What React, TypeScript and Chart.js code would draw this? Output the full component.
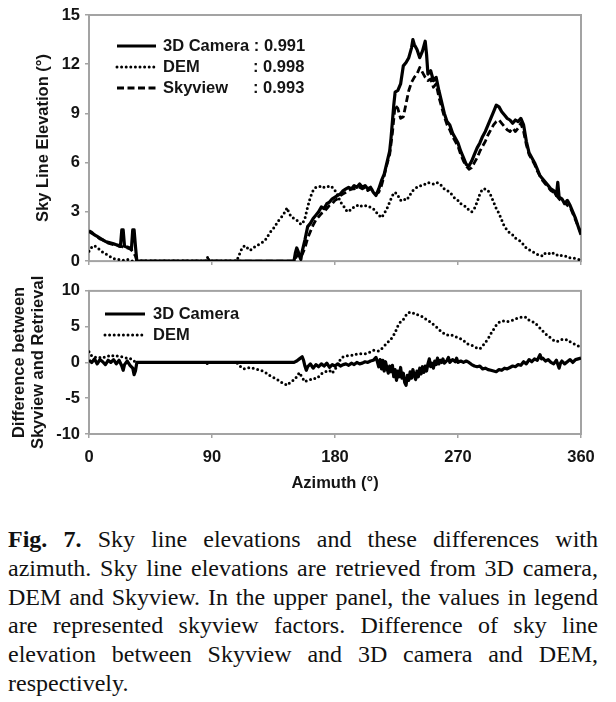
import React, { useEffect, useRef } from "react";
import { Chart, registerables } from "chart.js";

Chart.register(...registerables);

// ---------- data (azimuth in degrees, value) ----------
const azimuthTicks = [0, 90, 180, 270, 360];
const elevationTicks = [0, 3, 6, 9, 12, 15];
const differenceTicks = [-10, -5, 0, 5, 10];
const skyviewFactors = ["0.991", "0.998", "0.993"];

const cameraElev: [number, number][] = [
  [0, 1.85], [2, 1.75], [4, 1.6], [6, 1.5], [8, 1.4], [10, 1.3], [12, 1.2], [14, 1.15], [16, 1.1], [18, 1.05],
  [20, 1.0], [22, 0.95], [23, 0.9], [24, 1.9], [25, 1.9], [26, 0.9], [28, 0.85], [30, 0.8], [31, 0.7], [32, 1.9],
  [33, 1.9], [34, 0.9], [35, 0], [150, 0], [151, 0.5], [152, 0.8], [153, 0.6], [154, 0.3], [155, 0.1], [156, 0.6],
  [158, 1.3], [160, 2.1], [162, 2.3], [164, 2.6], [166, 2.8], [168, 3.0], [170, 3.3], [172, 3.2], [174, 3.5], [176, 3.6],
  [178, 3.8], [180, 3.9], [182, 4.0], [184, 4.1], [186, 4.3], [188, 4.4], [190, 4.5], [192, 4.4], [194, 4.6], [196, 4.5],
  [198, 4.7], [200, 4.5], [202, 4.6], [204, 4.4], [206, 4.5], [208, 4.2], [210, 4.0], [212, 4.4], [214, 4.9], [216, 5.3],
  [218, 6.0], [220, 6.7], [221, 7.5], [222, 8.5], [223, 9.5], [224, 10.3], [226, 10.4], [228, 10.8], [230, 11.9], [232, 12.1],
  [234, 12.4], [236, 13.0], [237, 13.5], [238, 13.2], [240, 12.9], [242, 12.4], [244, 12.8], [246, 13.4], [247, 12.6], [248, 11.4],
  [250, 11.6], [252, 11.0], [254, 11.2], [256, 10.4], [258, 9.7], [260, 9.0], [262, 8.5], [264, 8.3], [266, 7.8], [268, 7.5],
  [270, 7.2], [272, 6.7], [274, 6.3], [276, 5.9], [278, 5.8], [280, 6.1], [282, 6.5], [284, 6.9], [286, 7.2], [288, 7.6],
  [290, 7.9], [292, 8.3], [294, 8.7], [296, 9.1], [298, 9.5], [300, 9.4], [302, 9.1], [304, 8.9], [306, 8.7], [308, 8.6],
  [310, 8.4], [312, 8.6], [314, 8.5], [316, 8.7], [318, 8.3], [320, 7.3], [322, 6.6], [324, 6.3], [326, 6.0], [328, 5.6],
  [330, 5.2], [332, 5.0], [334, 4.8], [336, 4.6], [338, 4.4], [340, 4.3], [342, 4.0], [343, 4.8], [344, 3.9], [346, 3.8],
  [348, 3.5], [350, 3.7], [352, 3.4], [354, 3.0], [356, 2.6], [358, 2.1], [360, 1.6],
];

const skyviewElev: [number, number][] = [
  [0, 1.8], [2, 1.7], [4, 1.6], [6, 1.5], [8, 1.35], [10, 1.3], [12, 1.2], [14, 1.1], [16, 1.05], [18, 1.0],
  [20, 1.0], [22, 0.9], [24, 0.9], [26, 0.8], [28, 0.8], [30, 0.75], [32, 0.6], [34, 0.3], [35, 0], [150, 0],
  [152, 0.3], [154, 0.6], [156, 0.4], [158, 0.8], [160, 1.4], [162, 1.8], [164, 2.2], [166, 2.5], [168, 2.7], [170, 2.9],
  [172, 3.0], [174, 3.2], [176, 3.4], [178, 3.5], [180, 3.7], [182, 3.8], [184, 4.0], [186, 4.1], [188, 4.2], [190, 4.3],
  [192, 4.4], [194, 4.4], [196, 4.5], [198, 4.5], [200, 4.4], [202, 4.5], [204, 4.3], [206, 4.4], [208, 4.3], [210, 4.1],
  [212, 4.2], [214, 4.6], [216, 5.2], [218, 5.9], [220, 6.5], [222, 7.8], [224, 9.5], [226, 9.3], [228, 8.7], [230, 8.8],
  [232, 9.6], [234, 10.4], [236, 10.9], [238, 11.2], [240, 11.4], [242, 11.8], [244, 11.5], [246, 11.2], [248, 11.0], [250, 11.1],
  [252, 10.6], [254, 10.8], [256, 10.0], [258, 9.4], [260, 8.8], [262, 8.3], [264, 8.0], [266, 7.6], [268, 7.3], [270, 7.0],
  [272, 6.5], [274, 6.1], [276, 5.8], [278, 5.6], [280, 5.7], [282, 6.0], [284, 6.3], [286, 6.7], [288, 7.0], [290, 7.3],
  [292, 7.7], [294, 8.0], [296, 8.3], [298, 8.5], [300, 8.6], [302, 8.4], [304, 8.2], [306, 8.0], [308, 7.9], [310, 8.1],
  [312, 7.9], [314, 8.1], [316, 8.4], [318, 7.9], [320, 7.1], [322, 6.5], [324, 6.2], [326, 5.9], [328, 5.5], [330, 5.2],
  [332, 4.9], [334, 4.7], [336, 4.5], [338, 4.3], [340, 4.2], [342, 4.0], [344, 3.8], [346, 3.6], [348, 3.6], [350, 3.4],
  [352, 3.3], [354, 2.9], [356, 2.5], [358, 2.1], [360, 1.7],
];

const demElev: [number, number][] = [
  [0, 0.6], [2, 0.85], [4, 0.95], [6, 0.8], [8, 0.7], [10, 0.55], [12, 0.45], [14, 0.35], [16, 0.25], [18, 0.15],
  [20, 0.1], [22, 0.1], [24, 0.05], [26, 0.05], [28, 0.1], [30, 0.05], [32, 0], [86, 0], [87, 0.3], [88, 0],
  [108, 0], [110, 0.4], [112, 0.8], [114, 0.95], [116, 0.8], [118, 0.65], [120, 0.8], [122, 0.9], [124, 1.0], [126, 1.1],
  [128, 1.2], [130, 1.4], [132, 1.7], [134, 1.9], [136, 2.1], [138, 2.4], [140, 2.6], [142, 2.8], [144, 3.1], [145, 3.25],
  [146, 3.0], [148, 2.7], [150, 2.6], [152, 2.5], [154, 2.3], [156, 2.25], [158, 2.6], [160, 3.3], [162, 3.9], [164, 4.3],
  [166, 4.5], [168, 4.5], [170, 4.6], [172, 4.5], [174, 4.5], [176, 4.6], [178, 4.5], [180, 4.3], [182, 4.0], [184, 3.6],
  [186, 3.4], [188, 3.1], [190, 3.0], [192, 3.2], [194, 3.3], [196, 3.4], [198, 3.3], [200, 3.4], [202, 3.4], [204, 3.3],
  [206, 3.3], [208, 3.2], [210, 3.0], [212, 2.8], [214, 2.65], [216, 2.9], [218, 3.2], [220, 3.6], [222, 4.0], [224, 4.2],
  [226, 4.0], [228, 3.7], [230, 3.8], [232, 3.7], [234, 3.9], [236, 4.2], [238, 4.4], [240, 4.5], [242, 4.6], [244, 4.6],
  [246, 4.7], [248, 4.8], [250, 4.75], [252, 4.7], [254, 4.8], [256, 4.75], [258, 4.6], [260, 4.4], [262, 4.3], [264, 4.2],
  [266, 4.0], [268, 3.8], [270, 3.7], [272, 3.5], [274, 3.4], [276, 3.3], [278, 3.1], [280, 3.0], [282, 3.2], [284, 3.6],
  [286, 4.1], [288, 4.4], [290, 4.4], [292, 4.3], [294, 4.0], [296, 3.6], [298, 3.2], [300, 2.9], [302, 2.5], [304, 2.1],
  [306, 1.9], [308, 1.7], [310, 1.6], [312, 1.4], [314, 1.3], [316, 1.2], [318, 1.0], [320, 0.8], [322, 0.7], [324, 0.6],
  [326, 0.5], [328, 0.4], [330, 0.4], [332, 0.3], [334, 0.5], [336, 0.5], [338, 0.4], [340, 0.5], [342, 0.4], [344, 0.3],
  [346, 0.35], [348, 0.3], [350, 0.3], [352, 0.2], [354, 0.2], [356, 0.15], [358, 0.1], [360, 0.1],
];

const cameraDiff: [number, number][] = [
  [0, 0.3], [2, 0], [4, 0.5], [6, -0.2], [8, 0.4], [10, 0.1], [12, -0.3], [14, 0.3], [16, 0], [18, 0.4],
  [20, -0.2], [22, 0.3], [24, -0.5], [25, -1.1], [26, -0.3], [28, 0.2], [30, -0.4], [32, -0.8], [33, -1.7], [34, -1.2],
  [35, 0], [150, 0], [152, 0.2], [154, 0.5], [156, 0.8], [157, 0.3], [158, -0.5], [159, -1.1], [160, -0.6], [162, -0.2],
  [164, -0.8], [166, -0.3], [168, -0.6], [170, -0.2], [172, -0.5], [174, -0.1], [176, -0.7], [178, -0.3], [180, -0.5], [182, -0.2],
  [184, -0.5], [186, -0.3], [188, -0.2], [190, -0.4], [192, -0.1], [194, -0.3], [196, 0], [198, -0.2], [200, -0.1], [202, 0.1],
  [204, 0], [206, 0.2], [208, 0.3], [210, 0.7], [211, 0.1], [212, -0.6], [213, 0.4], [214, -0.9], [215, 0.3], [216, -1.2],
  [217, 0.1], [218, -0.8], [219, -1.5], [220, -0.5], [221, -1.3], [222, -0.4], [223, -2.0], [224, -1.0], [225, -2.5], [226, -1.2],
  [227, -2.0], [228, -0.7], [229, -2.2], [230, -1.5], [231, -2.8], [232, -3.2], [233, -1.8], [234, -2.5], [235, -1.3], [236, -2.2],
  [237, -1.0], [238, -1.8], [239, -2.4], [240, -1.2], [241, -2.0], [242, -0.8], [243, -1.6], [244, -0.6], [245, -1.4], [246, -0.5],
  [247, -1.2], [248, -0.2], [249, 0.5], [250, -0.6], [251, -0.1], [252, -0.8], [253, 0.2], [254, -0.3], [255, 0.6], [256, -0.2],
  [257, 0.3], [258, 0], [259, 0.5], [260, -0.1], [262, 0.3], [263, 0.7], [264, 0], [266, 0.4], [268, 0.1], [269, 0.6],
  [270, 0], [272, 0.2], [274, 0], [276, 0.2], [278, 0], [280, -0.3], [282, -0.5], [284, -0.6], [286, -0.5], [288, -0.9],
  [290, -0.8], [292, -1.0], [294, -1.1], [296, -1.2], [298, -1.3], [300, -1.0], [302, -1.1], [304, -0.8], [306, -0.9], [308, -0.7],
  [310, -0.5], [312, -0.6], [314, -0.3], [316, -0.4], [318, 0.1], [320, -0.2], [322, 0.4], [324, 0.1], [326, 0.5], [328, 0.3],
  [330, 1.1], [331, 0.5], [332, 0.6], [334, 0.2], [336, 0.4], [338, 0], [340, -0.2], [342, 0.3], [344, -0.8], [345, -0.1],
  [346, 0.2], [348, -0.2], [350, 0.1], [352, 0.4], [354, 0], [356, 0.4], [358, 0.5], [360, 0.6],
];

const demDiff: [number, number][] = [
  [0, 1.5], [2, 0.9], [4, 0.7], [6, 0.8], [8, 0.7], [10, 0.6], [12, 0.8], [14, 0.9], [16, 0.8], [18, 1.0],
  [20, 0.9], [22, 0.9], [24, 0.8], [26, 0.7], [28, 0.6], [30, 0.6], [32, 0.3], [34, 0.1], [36, 0], [86, 0],
  [87, -0.3], [88, 0], [108, 0], [110, -0.4], [112, -0.8], [114, -0.9], [116, -0.8], [118, -0.7], [120, -0.8], [122, -0.9],
  [124, -1.0], [126, -1.1], [128, -1.3], [130, -1.5], [132, -1.8], [134, -2.0], [136, -2.2], [138, -2.4], [140, -2.7], [142, -2.9],
  [144, -3.1], [145, -3.2], [146, -3.0], [148, -2.6], [150, -2.5], [152, -2.0], [154, -1.4], [156, -2.1], [158, -2.7], [160, -2.5],
  [162, -2.4], [164, -2.2], [166, -2.3], [168, -2.0], [170, -1.6], [172, -1.4], [174, -1.2], [176, -1.1], [178, -1.5], [180, -0.9],
  [182, -0.5], [184, 0.5], [186, 0.8], [188, 0.9], [190, 1.0], [192, 1.0], [194, 1.0], [196, 1.2], [198, 1.2], [200, 1.2],
  [202, 1.2], [204, 1.3], [206, 1.5], [208, 1.7], [210, 1.7], [212, 1.6], [214, 1.9], [216, 2.3], [218, 2.7], [220, 3.1],
  [222, 3.5], [224, 4.2], [226, 5.1], [228, 5.7], [230, 6.0], [232, 6.6], [234, 7.0], [236, 6.8], [238, 6.9], [240, 6.7],
  [242, 6.5], [244, 6.4], [246, 6.1], [248, 5.9], [250, 5.6], [252, 5.3], [254, 5.0], [256, 4.6], [258, 4.3], [260, 4.0],
  [262, 3.8], [264, 3.9], [266, 3.8], [268, 3.6], [270, 3.5], [272, 3.3], [274, 3.1], [276, 2.7], [278, 2.5], [280, 2.4],
  [282, 2.2], [284, 2.0], [286, 1.9], [288, 2.3], [290, 2.8], [292, 3.3], [294, 4.0], [296, 4.6], [298, 5.2], [300, 5.6],
  [302, 5.8], [304, 5.8], [306, 5.7], [308, 5.8], [310, 5.9], [312, 6.1], [314, 6.2], [316, 6.3], [318, 6.4], [320, 6.3],
  [322, 5.9], [324, 5.7], [326, 5.6], [328, 5.2], [330, 4.8], [332, 4.4], [334, 4.0], [336, 3.7], [338, 3.4], [340, 3.1],
  [342, 2.9], [344, 3.0], [346, 3.2], [348, 3.1], [350, 3.2], [352, 2.9], [354, 2.7], [356, 2.5], [358, 2.3], [360, 2.1],
];

// ---------- styles ----------
const FONT = '"Liberation Sans", Arial, sans-serif';
const TXT = "#141414";
const AXIS = "#a3a3a3";

type LineStyle = "solid" | "dotted" | "dashed";
const styleOf = (s: LineStyle) => {
  if (s === "solid") return { borderWidth: 3.2, borderDash: [] as number[], borderCapStyle: "butt" as const };
  if (s === "dotted") return { borderWidth: 3, borderDash: [0, 4.6], borderCapStyle: "round" as const };
  return { borderWidth: 2.8, borderDash: [7, 3.5], borderCapStyle: "butt" as const };
};

const toPts = (arr: [number, number][]) => arr.map(([x, y]) => ({ x, y }));

const mkDataset = (label: string, arr: [number, number][], s: LineStyle) => ({
  label,
  data: toPts(arr),
  borderColor: "#000",
  backgroundColor: "#000",
  pointRadius: 0,
  tension: 0,
  fill: false,
  borderJoinStyle: "round" as const,
  ...styleOf(s),
});

const boxPlugin = {
  id: "plotBox",
  beforeDatasetsDraw(chart: any) {
    const { ctx, chartArea: a } = chart;
    ctx.save();
    ctx.strokeStyle = AXIS;
    ctx.lineWidth = 2;
    ctx.strokeRect(a.left, a.top, a.right - a.left, a.bottom - a.top);
    ctx.restore();
  },
};

type LegendRow = { label: string; value?: string; style: LineStyle };
const legendPlugin = (rows: LegendRow[], y0: number, dy: number, x1: number, x2: number, tx: number, vx: number) => ({
  id: "insetLegend",
  afterDatasetsDraw(chart: any) {
    const ctx = chart.ctx as CanvasRenderingContext2D;
    ctx.save();
    ctx.font = `bold 16.5px ${FONT}`;
    ctx.fillStyle = TXT;
    ctx.textBaseline = "middle";
    rows.forEach((r, i) => {
      const y = y0 + i * dy;
      const st = styleOf(r.style);
      ctx.strokeStyle = "#000";
      ctx.lineWidth = st.borderWidth;
      ctx.lineCap = st.borderCapStyle;
      ctx.setLineDash(st.borderDash);
      ctx.beginPath();
      ctx.moveTo(x1, y);
      ctx.lineTo(x2, y);
      ctx.stroke();
      ctx.setLineDash([]);
      ctx.fillText(r.label, tx, y);
      if (r.value) ctx.fillText(r.value, vx, y);
    });
    ctx.restore();
  },
});

const tickFont = { family: FONT, size: 16.5, weight: "bold" as const };
const titleFont = { family: FONT, size: 16.5, weight: "bold" as const, lineHeight: 1.15 };
const gridOpts = { drawOnChartArea: false, drawTicks: true, tickLength: 4, color: AXIS, lineWidth: 1.5 };

export default function App() {
  const topRef = useRef<HTMLCanvasElement>(null);
  const botRef = useRef<HTMLCanvasElement>(null);

  useEffect(() => {
    const top = new Chart(topRef.current!, {
      type: "line",
      data: {
        datasets: [
          mkDataset("3D Camera", cameraElev, "solid"),
          mkDataset("Skyview", skyviewElev, "dashed"),
          mkDataset("DEM", demElev, "dotted"),
        ],
      },
      options: {
        responsive: false,
        animation: false,
        devicePixelRatio: 1,
        layout: { padding: { top: 15, right: 35, left: 0, bottom: 0 } },
        plugins: { legend: { display: false }, tooltip: { enabled: false } },
        scales: {
          x: {
            type: "linear",
            min: 0,
            max: 360,
            afterBuildTicks: (s: any) => { s.ticks = azimuthTicks.map((v) => ({ value: v })); },
            ticks: { display: false },
            grid: gridOpts,
            border: { display: false },
            afterFit: (s: any) => { s.height = 8; },
          },
          y: {
            min: 0,
            max: 15,
            afterBuildTicks: (s: any) => { s.ticks = elevationTicks.map((v) => ({ value: v })); },
            ticks: { padding: 5, color: TXT, font: tickFont },
            grid: gridOpts,
            border: { display: false },
            title: { display: true, text: "Sky Line Elevation (°)", color: TXT, font: titleFont, padding: { top: 33.5, bottom: 0 } },
            afterFit: (s: any) => { s.width = 89; },
          },
        },
      } as any,
      plugins: [
        boxPlugin,
        legendPlugin(
          [
            { label: `3D Camera : ${skyviewFactors[0]}`, style: "solid" },
            { label: "DEM", value: `: ${skyviewFactors[1]}`, style: "dotted" },
            { label: "Skyview", value: `: ${skyviewFactors[2]}`, style: "dashed" },
          ],
          46, 21, 117, 156, 163, 253
        ),
      ],
    });

    const bot = new Chart(botRef.current!, {
      type: "line",
      data: {
        datasets: [
          mkDataset("3D Camera", cameraDiff, "solid"),
          mkDataset("DEM", demDiff, "dotted"),
        ],
      },
      options: {
        responsive: false,
        animation: false,
        devicePixelRatio: 1,
        layout: { padding: { top: 8, right: 35, left: 0, bottom: 0 } },
        plugins: { legend: { display: false }, tooltip: { enabled: false } },
        scales: {
          x: {
            type: "linear",
            min: 0,
            max: 360,
            afterBuildTicks: (s: any) => { s.ticks = azimuthTicks.map((v) => ({ value: v })); },
            ticks: { padding: 10, color: TXT, font: tickFont, maxRotation: 0 },
            grid: gridOpts,
            border: { display: false },
            title: { display: true, text: "Azimuth (°)", color: TXT, font: titleFont, padding: { top: 0, bottom: 3 } },
            afterFit: (s: any) => { s.height = 62; },
          },
          y: {
            min: -10,
            max: 10,
            afterBuildTicks: (s: any) => { s.ticks = differenceTicks.map((v) => ({ value: v })); },
            ticks: { padding: 5, color: TXT, font: tickFont },
            grid: gridOpts,
            border: { display: false },
            title: {
              display: true,
              text: ["Difference between", "Skyview and Retrieval"],
              color: TXT,
              font: titleFont,
              padding: { top: 9.5, bottom: 0 },
            },
            afterFit: (s: any) => { s.width = 89; },
          },
        },
      } as any,
      plugins: [
        boxPlugin,
        legendPlugin(
          [
            { label: "3D Camera", style: "solid" },
            { label: "DEM", style: "dotted" },
          ],
          38, 21, 105, 145, 153, 0
        ),
      ],
    });

    return () => {
      top.destroy();
      bot.destroy();
    };
  }, []);

  return (
    <div style={{ position: "absolute", left: 0, top: 0, width: 616, height: 702, background: "#fff", overflow: "hidden" }}>
      <canvas ref={topRef} width={616} height={276} style={{ position: "absolute", left: 0, top: 0, width: 616, height: 276 }} />
      <canvas ref={botRef} width={616} height={220} style={{ position: "absolute", left: 0, top: 276, width: 616, height: 220 }} />
      <div
        style={{
          position: "absolute",
          left: 8,
          top: 525,
          width: 590,
          fontFamily: "Liberation Serif, Times New Roman, Times, serif",
          fontSize: 24,
          lineHeight: "28.8px",
          textAlign: "justify",
          color: "#111",
        }}
      >
        <b>Fig. 7.</b> Sky line elevations and these differences with azimuth. Sky line elevations are retrieved from 3D
        camera, DEM and Skyview. In the upper panel, the values in legend are represented skyview factors. Difference of
        sky line elevation between Skyview and 3D camera and DEM, respectively.
      </div>
    </div>
  );
}
